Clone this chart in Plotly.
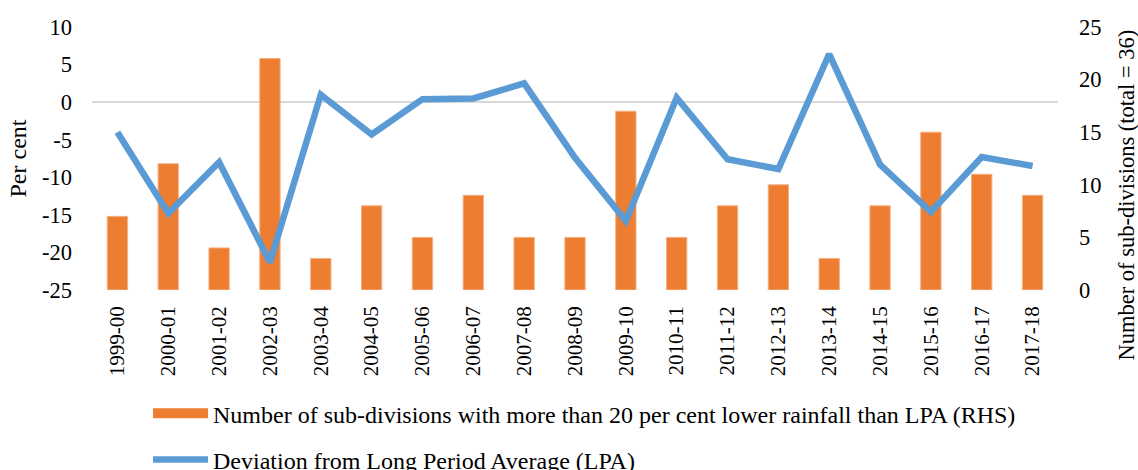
import plotly.graph_objects as go

years = ["1999-00", "2000-01", "2001-02", "2002-03", "2003-04", "2004-05", "2005-06",
         "2006-07", "2007-08", "2008-09", "2009-10", "2010-11", "2011-12", "2012-13",
         "2013-14", "2014-15", "2015-16", "2016-17", "2017-18"]
subdiv_deficient = [7, 12, 4, 22, 3, 8, 5, 9, 5, 5, 17, 5, 8, 10, 3, 8, 15, 11, 9]
lpa_deviation = [-4.0, -14.8, -8.0, -21.3, 1.0, -4.3, 0.4, 0.5, 2.5, -7.4, -15.8, 0.6,
                 -7.6, -8.9, 6.4, -8.3, -14.6, -7.3, -8.5]

left_ticks = [10, 5, 0, -5, -10, -15, -20, -25]
left_tick_labels = ["10", "5", "0", "-5", "-10", "-15", "-20", "-25"]
right_ticks = [0, 5, 10, 15, 20, 25]

bar_name = "Number of sub-divisions with more than 20 per cent lower rainfall than LPA (RHS)"
line_name = "Deviation from Long Period Average (LPA)"
right_title = "Number of sub-divisions (total = 36)"

FONT = "Liberation Serif"
ORANGE = "#ED7D31"
BLUE = "#5B9BD5"

fig = go.Figure()
fig.add_trace(go.Bar(
    x=years, y=subdiv_deficient, name=bar_name, yaxis="y",
    marker=dict(color=ORANGE, line=dict(color="#F4B183", width=1)),
    showlegend=False,
))
# legend entry for the bars (Excel-style wide swatch)
fig.add_trace(go.Scatter(
    x=[None], y=[None], name=bar_name, yaxis="y", mode="lines",
    line=dict(color=ORANGE, width=11), legendgroup="a", hoverinfo="skip",
))
fig.add_trace(go.Scatter(
    x=years, y=lpa_deviation, name=line_name, yaxis="y2", mode="lines",
    line=dict(color=BLUE, width=6.5), legendgroup="b",
))

fig.update_layout(
    width=1138, height=470,
    margin=dict(l=92, r=80, t=27, b=180, autoexpand=False),
    paper_bgcolor="white", plot_bgcolor="white",
    font=dict(family=FONT, size=22, color="black"),
    bargap=0.6,
    showlegend=True,
    legend=dict(
        x=0.058, y=-0.385, xanchor="left", yanchor="top",
        orientation="v", traceorder="grouped", tracegroupgap=12,
        itemwidth=55, font=dict(family=FONT, size=24, color="black"),
        bgcolor="rgba(0,0,0,0)",
    ),
    xaxis=dict(
        type="category", range=[-0.5, 18.5], showgrid=False, zeroline=False,
        showline=False, ticks="", tickangle=-90,
        tickfont=dict(family=FONT, size=21, color="black"),
        ticklabelstandoff=11,
    ),
    yaxis=dict(
        side="right", range=[0, 25], tickvals=right_ticks, showgrid=False, zeroline=False,
        showline=False, ticks="", ticklabelstandoff=20,
        tickfont=dict(family=FONT, size=22.5, color="black"),
    ),
    yaxis2=dict(
        side="left", overlaying="y", range=[-25, 10],
        tickvals=left_ticks, ticktext=left_tick_labels, showgrid=False,
        zeroline=True, zerolinecolor="#D9D9D9", zerolinewidth=2,
        showline=False, ticks="", ticklabelstandoff=19,
        tickfont=dict(family=FONT, size=22.5, color="black"),
        title=dict(text="Per cent", standoff=8, font=dict(family=FONT, size=24, color="black")),
    ),
    annotations=[dict(
        text=right_title, textangle=-90, xref="paper", yref="paper",
        x=1.0, xshift=68, y=0.5, yshift=-37, xanchor="center", yanchor="middle",
        showarrow=False, font=dict(size=22.5, family=FONT, color="black"),
    )],
)

fig.write_html("out.html", config={"displayModeBar": False},
               post_script="document.body.style.margin='0px';")
